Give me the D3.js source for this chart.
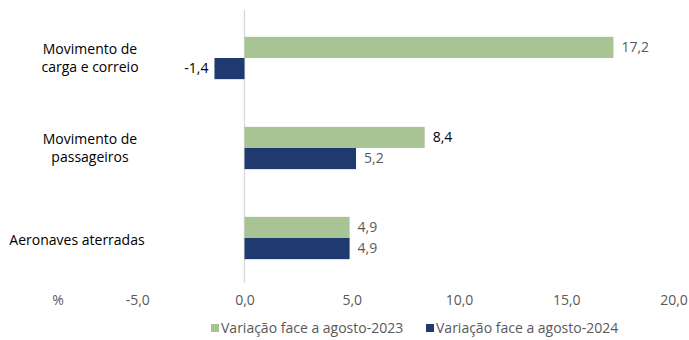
<!DOCTYPE html>
<html>
<head>
<meta charset="utf-8">
<script src="https://cdn.jsdelivr.net/npm/d3@7"></script>
<style>
  html, body { margin: 0; padding: 0; background: #fff; }
  svg { display: block; font-family: "Open Sans", "Liberation Sans", sans-serif; }
</style>
</head>
<body>
<svg id="chart" width="689" height="340"></svg>
<script>
// Categories (top to bottom) and the two series of year-on-year change (%)
const categories = [
  ["Movimento de", "carga e correio"],
  ["Movimento de", "passageiros"],
  ["Aeronaves aterradas"]
];
const categoryKeys = ["carga", "passageiros", "aeronaves"];
const seriesNames = ["Variação face a agosto-2023", "Variação face a agosto-2024"];
const values2023 = [17.2, 8.4, 4.9];
const values2024 = [-1.4, 5.2, 4.9];
const xTicks = [-5, 0, 5, 10, 15, 20];
const colors = ["#a9c494", "#1f3a6e"];

const svg = d3.select("#chart");
const fmt = v => d3.format(".1f")(v).replace(".", ",").replace("−", "-");
const FS = 14;

const x = d3.scaleLinear().domain([-5, 20]).range([137.25, 673.5]);
const y = d3.scaleBand().domain(categoryKeys).range([13, 283]).paddingInner(0.53).paddingOuter(0.265);
const ySub = d3.scaleBand().domain([0, 1]).range([0, y.bandwidth()]);

// Vertical zero line
svg.append("line")
  .attr("x1", x(0)).attr("x2", x(0))
  .attr("y1", 10).attr("y2", 283)
  .attr("stroke", "#d9d9d9").attr("stroke-width", 1.3);

// Bars
const series = [values2023, values2024];
series.forEach((vals, si) => {
  svg.append("g").selectAll("rect")
    .data(vals)
    .join("rect")
    .attr("x", d => x(Math.min(0, d)))
    .attr("width", d => Math.abs(x(d) - x(0)))
    .attr("y", (d, i) => y(categoryKeys[i]) + ySub(si))
    .attr("height", ySub.bandwidth())
    .attr("fill", colors[si]);

  // Value labels
  svg.append("g").selectAll("text")
    .data(vals)
    .join("text")
    .attr("x", d => d < 0 ? x(d) - 6 : x(d) + 8)
    .attr("y", (d, i) => y(categoryKeys[i]) + ySub(si) + ySub.bandwidth() / 2)
    .attr("dy", "0.35em")
    .attr("text-anchor", d => d < 0 ? "end" : "start")
    .attr("font-size", FS)
    .attr("fill", (d, i) => (si === 0 && i === 1) || d < 0 ? "#000" : "#595959")
    .text(d => fmt(d));
});

// Category labels
categories.forEach((lines, i) => {
  const cy = y(categoryKeys[i]) + y.bandwidth() / 2;
  const n = lines.length;
  const cx = n > 1 ? 90 : 77;
  const t = svg.append("text")
    .attr("text-anchor", "middle")
    .attr("font-size", FS)
    .attr("fill", "#000");
  lines.forEach((ln, j) => {
    t.append("tspan")
      .attr("x", cx)
      .attr("y", cy + (j - (n - 1) / 2) * 18 + (n > 1 ? 0 : 2))
      .attr("dy", "0.35em")
      .text(ln);
  });
});

// X axis tick labels
const axis = d3.axisBottom(x).tickValues(xTicks).tickSize(0).tickFormat(fmt);
const gx = svg.append("g").attr("transform", "translate(0,292)").call(axis);
gx.select(".domain").remove();
gx.selectAll("text").attr("font-size", FS).attr("fill", "#595959")
  .attr("font-family", "\"Open Sans\", \"Liberation Sans\", sans-serif");

svg.append("text")
  .attr("x", 58).attr("y", 300).attr("dy", "0.35em")
  .attr("text-anchor", "middle").attr("font-size", FS).attr("fill", "#595959")
  .text("%");

// Legend
const legendX = [211, 426];
seriesNames.forEach((name, i) => {
  const g = svg.append("g").attr("transform", `translate(${legendX[i]},328)`);
  g.append("rect").attr("x", 0).attr("y", -4).attr("width", 8).attr("height", 8).attr("fill", colors[i]);
  g.append("text").attr("x", 10).attr("y", 0).attr("dy", "0.35em")
    .attr("font-size", FS).attr("fill", "#595959").text(name);
});
</script>
</body>
</html>
